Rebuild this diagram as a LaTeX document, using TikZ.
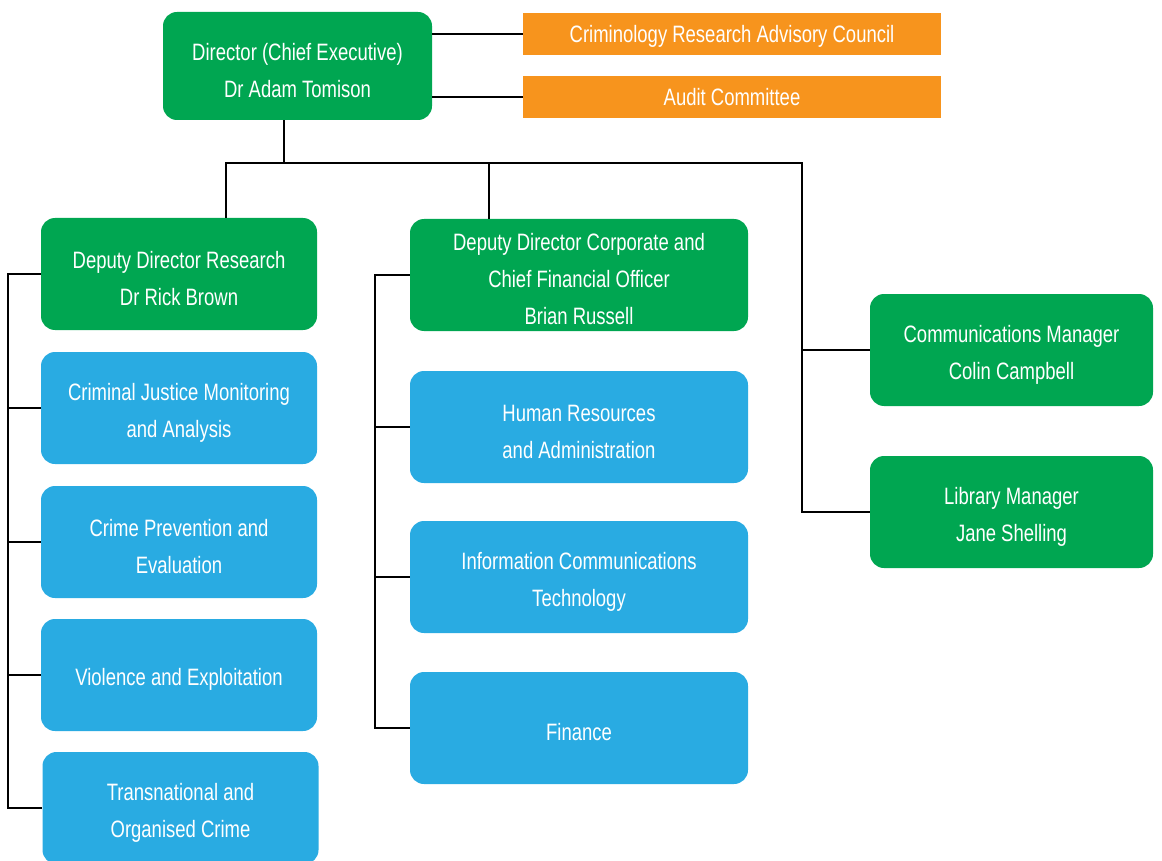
\documentclass[tikz,border=0pt]{standalone}
\usepackage{fontspec}
\setmainfont{Liberation Sans}[FakeStretch=0.78]
\usepackage{tikz}

\definecolor{aicgreen}{RGB}{0,166,81}
\definecolor{aicblue}{RGB}{41,171,226}
\definecolor{aicorange}{RGB}{247,148,29}

\begin{document}
\begin{tikzpicture}[x=1pt, y=-1pt,
    boxtext/.style={inner sep=0pt, align=center, text=white,
      font=\fontsize{23.7}{37}\selectfont, yshift=-4.5pt},
    box/.style={rounded corners=14pt, inner sep=0pt, minimum height=112pt},
    greenbox/.style={box, fill=aicgreen},
    bluebox/.style={box, fill=aicblue},
    orangebox/.style={inner sep=0pt, text=white, font=\fontsize{23.7}{37}\selectfont,
      fill=aicorange, minimum width=418pt, minimum height=42pt, text height=17pt, text depth=0pt},
    link/.style={line width=1.3pt, black}]
    \useasboundingbox (0,0) rectangle (1162,861);

    % top
    \node[greenbox, minimum width=269pt, minimum height=108pt,
      label={[boxtext]center:{Director (Chief Executive)\\Dr Adam Tomison}}] (dir) at (297.5,66) {};
    \node[orangebox] (crac) at (732,34) {Criminology Research Advisory Council};
    \node[orangebox] (audit) at (732,97) {Audit Committee};

    % research
    \node[greenbox, minimum width=276pt,
      label={[boxtext]center:{Deputy Director Research\\Dr Rick Brown}}] (ddr) at (179,274) {};
    \node[bluebox, minimum width=276pt,
      label={[boxtext]center:{Criminal Justice Monitoring\\and Analysis}}] (cjm) at (179,408) {};
    \node[bluebox, minimum width=276pt,
      label={[boxtext]center:{Crime Prevention and\\Evaluation}}] (cpe) at (179,542) {};
    \node[bluebox, minimum width=276pt,
      label={[boxtext]center:{Violence and Exploitation}}] (vex) at (179,675) {};
    \node[bluebox, minimum width=276pt,
      label={[boxtext]center:{Transnational and\\Organised Crime}}] (toc) at (180.5,808) {};

    % corporate
    \node[greenbox, minimum width=338pt,
      label={[boxtext]center:{Deputy Director Corporate and\\Chief Financial Officer\\Brian Russell}}] (ddc) at (579,275) {};
    \node[bluebox, minimum width=338pt,
      label={[boxtext]center:{Human Resources\\and Administration}}] (hra) at (579,427) {};
    \node[bluebox, minimum width=338pt,
      label={[boxtext]center:{Information Communications\\Technology}}] (ict) at (579,577) {};
    \node[bluebox, minimum width=338pt,
      label={[boxtext]center:{Finance}}] (fin) at (579,728) {};

    % managers
    \node[greenbox, minimum width=283pt,
      label={[boxtext]center:{Communications Manager\\Colin Campbell}}] (comm) at (1011.5,350) {};
    \node[greenbox, minimum width=283pt,
      label={[boxtext]center:{Library Manager\\Jane Shelling}}] (lib) at (1011.5,512) {};

    \coordinate (drop) at (284,163);
    \coordinate (busL) at (226,163);
    \coordinate (busM) at (489,163);
    \coordinate (busR) at (802,163);
    \coordinate (railL) at (8,0);
    \coordinate (railM) at (375,0);

    \draw[link] (dir.east |- crac.west) -- (crac.west);
    \draw[link] (dir.east |- audit.west) -- (audit.west);
    \draw[link] (dir.south -| drop) -- (drop);
    \draw[link] (busL |- ddr.north) -- (busL) -- (busR) |- (lib.west);
    \draw[link] (busM) -- (busM |- ddc.north);
    \draw[link] (busR |- comm.west) -- (comm.west);

    \draw[link] (ddr.west) -| (railL |- toc.west) -- (toc.west);
    \foreach \b in {cjm,cpe,vex}
      \draw[link] (railL |- \b.west) -- (\b.west);

    \draw[link] (ddc.west) -| (railM |- fin.west) -- (fin.west);
    \foreach \b in {hra,ict}
      \draw[link] (railM |- \b.west) -- (\b.west);
\end{tikzpicture}
\end{document}
